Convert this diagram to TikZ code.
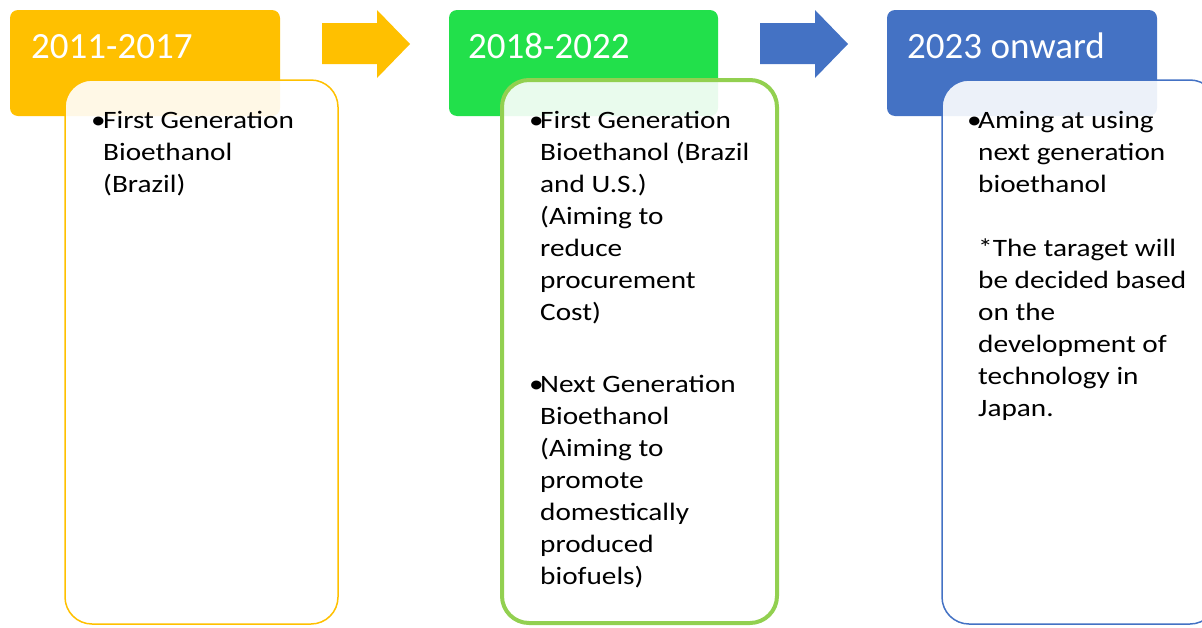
\documentclass[tikz,border=0pt]{standalone}
\usepackage{fontspec}
\setmainfont{Carlito}
\newfontfamily\bodyfont[FakeStretch=1.17]{Carlito}

\definecolor{amber}{HTML}{FFC000}
\definecolor{lime}{HTML}{22E04B}
\definecolor{leaf}{HTML}{92D050}
\definecolor{steel}{HTML}{4472C4}

\begin{document}
\begin{tikzpicture}[x=1pt, y=-1pt,
  period/.style={rounded corners=8pt},
  detail/.style={rounded corners=27pt, fill=white, fill opacity=0.9},
  year/.style={anchor=base west, inner sep=0pt, text=white, font=\fontsize{37}{44}\selectfont},
  item/.style={anchor=base west, inner sep=0pt, align=left, font=\bodyfont\fontsize{25}{32}\selectfont},
  dot/.style={anchor=base west, inner sep=0pt, font=\bodyfont\fontsize{25}{32}\selectfont}]
  \useasboundingbox (0,0) rectangle (1202,627);
  \clip (0,0) rectangle (1202,627);

  % period headers
  \fill[period, amber] (10,10) rectangle (280,116);
  \fill[period, lime] (449,10) rectangle (718,116);
  \fill[period, steel] (887,10) rectangle (1157,116);

  \node[year] (y1) at (31,58) {2011-2017};
  \node[year] (y2) at (468,58) {2018-2022};
  \node[year] (y3) at (907,58) {2023 onward};

  % block arrows between the periods
  \foreach \dx/\col in {0/amber, 438/steel}
    \fill[\col, xshift=\dx] (322,23) -- (377,23) -- (377,10) -- (410,44)
      -- (377,78) -- (377,64) -- (322,64) -- cycle;

  % detail boxes
  \draw[detail, draw=amber, line width=1.5pt] (65,80) rectangle (338,624);
  \draw[detail, draw=leaf, line width=4pt] (502,80) rectangle (777,623);
  \draw[detail, draw=steel, line width=1.5pt] (942,80) rectangle (1217,624);

  % 2011-2017 (multi-line nodes sit on the baseline of their last line)
  \node[dot] (b1) at (91,128) {•};
  \node[item] (i1) at (103,192) {First Generation\\Bioethanol\\(Brazil)};

  % 2018-2022
  \node[dot] (b2) at (529,128) {•};
  \node[item] (i2) at (540,320) {First Generation\\Bioethanol (Brazil\\and U.S.)\\(Aiming to\\reduce\\procurement\\Cost)};
  \node[dot] (b3) at (529,392) {•};
  \node[item] (i3) at (540,584) {Next Generation\\Bioethanol\\(Aiming to\\promote\\domestically\\produced\\biofuels)};

  % 2023 onward
  \node[dot] (b4) at (967,128) {•};
  \node[item] (i4) at (978,192) {Aming at using\\next generation\\bioethanol};
  \node[item] (n4) at (978,416) {*The taraget will\\be decided based\\on the\\development of\\technology in\\Japan.};
\end{tikzpicture}
\end{document}
